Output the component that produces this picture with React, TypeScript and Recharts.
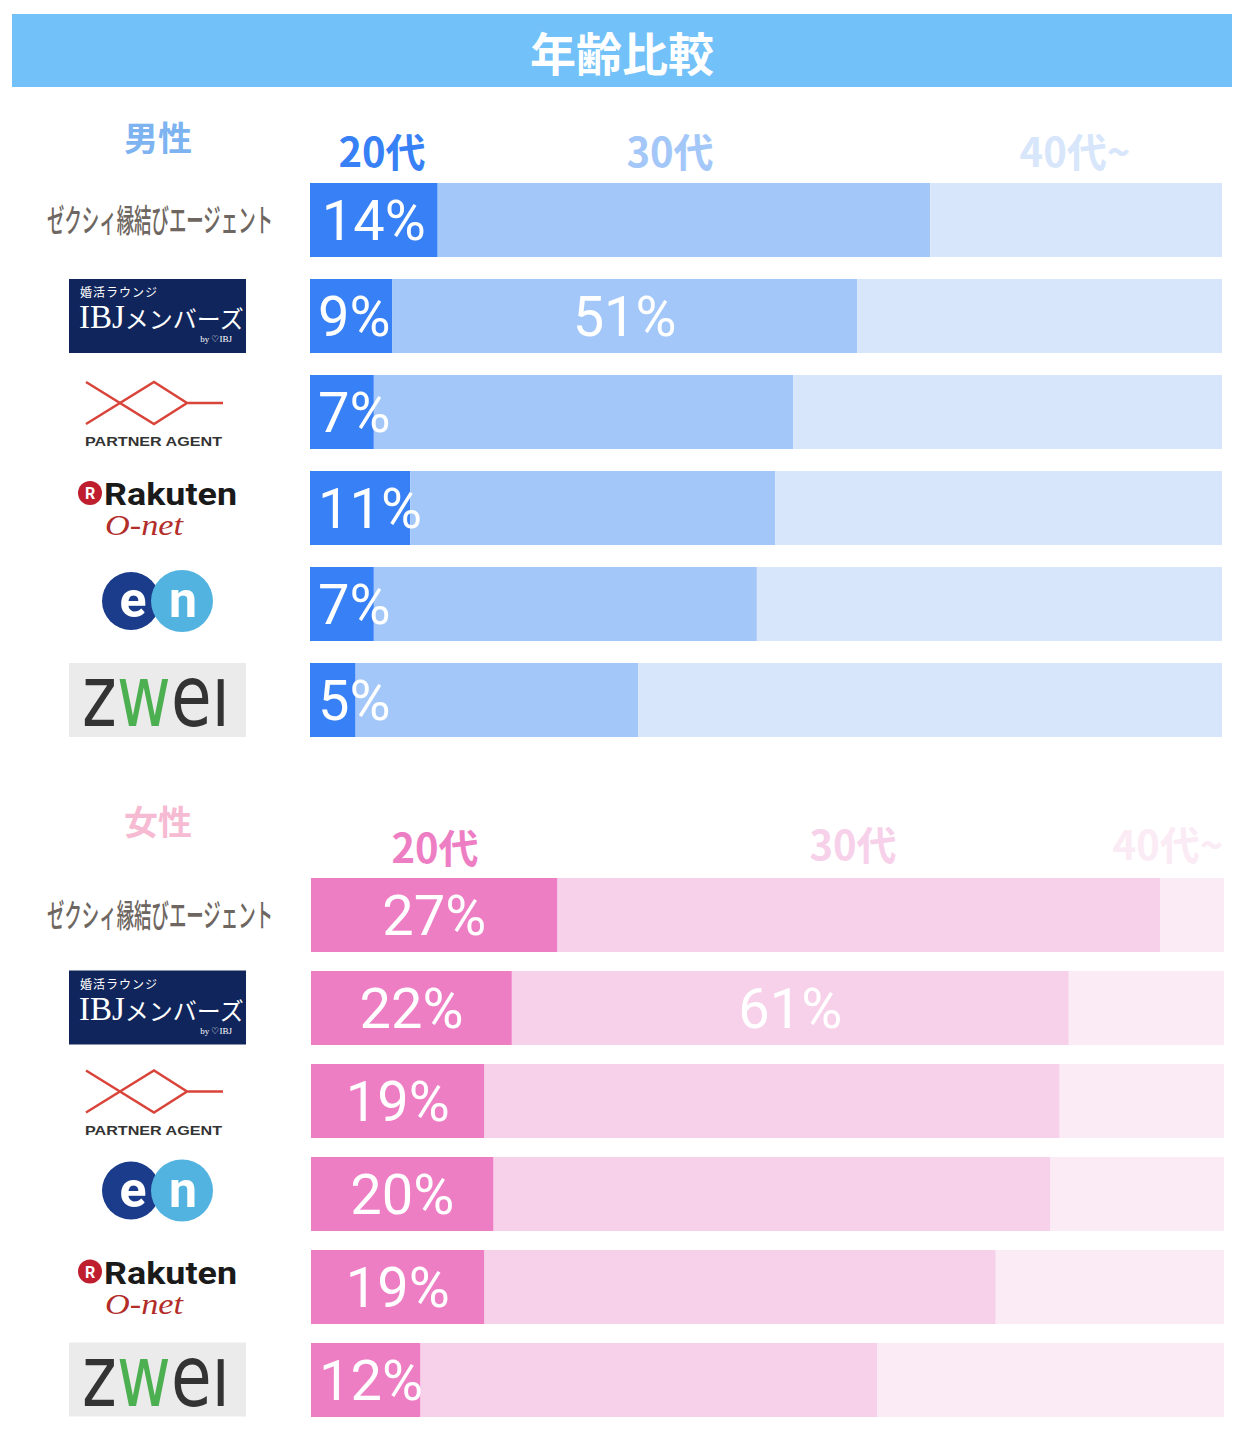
import { BarChart, Bar, XAxis, YAxis, LabelList } from 'recharts';

const ageGroups = ['20代', '30代', '40代~'];

const maleServices = ['ゼクシィ縁結びエージェント', 'IBJメンバーズ', 'パートナーエージェント', '楽天オーネット', 'エン婚活エージェント', 'ツヴァイ'];
const male20 = [14, 9, 7, 11, 7, 5];
const male30 = [54, 51, 46, 40, 42, 31];
const male40 = [32, 40, 47, 49, 51, 64];
const male30Labeled = ['IBJメンバーズ'];

const femaleServices = ['ゼクシィ縁結びエージェント', 'IBJメンバーズ', 'パートナーエージェント', 'エン婚活エージェント', '楽天オーネット', 'ツヴァイ'];
const female20 = [27, 22, 19, 20, 19, 12];
const female30 = [66, 61, 63, 61, 56, 50];
const female40 = [7, 17, 18, 19, 25, 38];
const female30Labeled = ['IBJメンバーズ'];

const BLUE = ['#3780F5', '#A3C7F8', '#D7E6FB'];
const PINK = ['#EE7EC4', '#F6D1E9', '#FAEBF5'];

const buildRows = (names: string[], a: number[], b: number[], c: number[], labeled: string[]) =>
  names.map((name, i) => ({
    name,
    a20: a[i],
    a30: b[i],
    a40: c[i],
    l30: labeled.includes(name) ? b[i] : null,
  }));

const maleData = buildRows(maleServices, male20, male30, male40, male30Labeled);
const femaleData = buildRows(femaleServices, female20, female30, female40, female30Labeled);

const PctLabel = (props: any) => {
  const { x, y, width, height, value } = props;
  if (value == null) return null;
  const w = String(value).length * 31.5 + 41;
  const cx = Math.max(x + width / 2, x + 8 + w / 2);
  return (
    <text x={cx} y={y + height / 2 + 20} textAnchor="middle" fill="#fff" fontSize={56} fontWeight={400} fontFamily="Roboto, sans-serif">
      {`${value}%`}
    </text>
  );
};

// logos drawn as svg stand-ins, centred on the tick's y
const LogoTick = (props: any) => {
  const { y, payload } = props;
  const cy = y;
  switch (payload.value) {
    case 'ゼクシィ縁結びエージェント':
      return (
        <text x={47} y={cy + 12} fontSize={32} fontWeight={500} fill="#6E6660" fontFamily='"Noto Sans CJK JP", sans-serif' textLength={226} lengthAdjust="spacingAndGlyphs">
          ゼクシィ縁結びエージェント
        </text>
      );
    case 'IBJメンバーズ':
      return (
        <g>
          <rect x={69} y={cy - 37} width={177} height={74} fill="#10255B" />
          <text x={80} y={cy - 19} fontSize={12} fill="#fff" fontFamily='"Noto Sans CJK JP", sans-serif' letterSpacing={1}>婚活ラウンジ</text>
          <text x={79} y={cy + 12} fill="#fff">
            <tspan fontSize={33} fontFamily='"Liberation Serif", serif'>IBJ</tspan>
            <tspan fontSize={24} fontFamily='"Noto Sans CJK JP", sans-serif'>メンバーズ</tspan>
          </text>
          <text x={232} y={cy + 26} textAnchor="end" fontSize={9} fill="#fff" fontFamily='"Liberation Serif", serif'>by ♡IBJ</text>
        </g>
      );
    case 'パートナーエージェント':
      return (
        <g>
          <path
            d={`M86 ${cy - 30} L154 ${cy + 12} L187 ${cy - 9} L154 ${cy - 30} L86 ${cy + 12} M187 ${cy - 9} L223 ${cy - 9}`}
            fill="none" stroke="#D9443A" strokeWidth={2.5}
          />
          <text x={85} y={cy + 34} fontSize={13} fontWeight={700} fill="#333" fontFamily='"Liberation Sans", sans-serif' textLength={137} lengthAdjust="spacingAndGlyphs">
            PARTNER AGENT
          </text>
        </g>
      );
    case '楽天オーネット':
      return (
        <g>
          <circle cx={90} cy={cy - 15} r={12} fill="#BF1E2E" />
          <text x={90} y={cy - 9} textAnchor="middle" fontSize={16} fontWeight={700} fill="#fff" fontFamily="Roboto, sans-serif">R</text>
          <text x={104} y={cy - 3} fontSize={32} fontWeight={700} fill="#1a1a1a" fontFamily="Roboto, sans-serif" textLength={133} lengthAdjust="spacingAndGlyphs">Rakuten</text>
          <text x={105} y={cy + 27} fontSize={30} fontStyle="italic" fill="#B22D2A" fontFamily='"Liberation Serif", serif' textLength={78} lengthAdjust="spacingAndGlyphs">O-net</text>
        </g>
      );
    case 'エン婚活エージェント':
      return (
        <g>
          <circle cx={131} cy={cy - 3} r={29} fill="#1A3C8A" />
          <circle cx={182} cy={cy - 3} r={31} fill="#53B3E0" />
          <text x={133} y={cy + 13} textAnchor="middle" fontSize={50} fontWeight={700} fill="#fff" fontFamily="Roboto, sans-serif">e</text>
          <text x={183} y={cy + 13} textAnchor="middle" fontSize={50} fontWeight={700} fill="#fff" fontFamily="Roboto, sans-serif">n</text>
        </g>
      );
    case 'ツヴァイ':
      return (
        <g>
          <rect x={69} y={cy - 37} width={177} height={74} fill="#EBEBEB" />
          <text x={82} y={cy + 26} fontSize={86} fill="#333" fontFamily='"DejaVu Sans", sans-serif' textLength={148} lengthAdjust="spacingAndGlyphs">
            z<tspan fill="#4CAF50">w</tspan>eı
          </text>
        </g>
      );
    default:
      return null;
  }
};

type SectionProps = {
  data: any[];
  colors: string[];
  top: number;
  height: number;
  axisWidth: number;
  right: number;
};

function Section({ data, colors, top, height, axisWidth, right }: SectionProps) {
  return (
    <div style={{ position: 'absolute', left: 0, top }}>
      <BarChart width={1244} height={height} data={data} layout="vertical" margin={{ top: 0, right, bottom: 0, left: 0 }} barSize={74}>
        <XAxis type="number" domain={[0, 100]} hide />
        <YAxis type="category" dataKey="name" width={axisWidth} axisLine={false} tickLine={false} tick={(p: any) => <LogoTick {...p} />} interval={0} />
        <Bar dataKey="a20" stackId="s" fill={colors[0]} isAnimationActive={false}>
          <LabelList dataKey="a20" content={PctLabel} />
        </Bar>
        <Bar dataKey="a30" stackId="s" fill={colors[1]} isAnimationActive={false}>
          <LabelList dataKey="l30" content={PctLabel} />
        </Bar>
        <Bar dataKey="a40" stackId="s" fill={colors[2]} isAnimationActive={false} />
      </BarChart>
    </div>
  );
}

const headStyle = (x: number, y: number, color: string, size: number): React.CSSProperties => ({
  position: 'absolute',
  left: x,
  top: y,
  transform: 'translate(-50%, -50%)',
  color,
  fontSize: size,
  fontWeight: 700,
  whiteSpace: 'nowrap',
  lineHeight: 1,
});

export default function App() {
  const maleHeadX = [382, 670, 1075];
  const femaleHeadX = [435, 853, 1168];
  const femaleHeadY = [846, 843, 843];
  return (
    <div style={{ position: 'absolute', left: 0, top: 0, width: 1244, height: 1434, background: '#fff', fontFamily: '"Noto Sans CJK JP", sans-serif' }}>
      <div style={{ position: 'absolute', left: 12, top: 14, width: 1220, height: 73, background: '#72C1F9', color: '#fff', fontSize: 46, fontWeight: 700, display: 'flex', alignItems: 'center', justifyContent: 'center' }}>
        年齢比較
      </div>

      <div style={headStyle(158, 137, '#7DB3F0', 34)}>男性</div>
      {ageGroups.map((g, i) => (
        <div key={g} style={headStyle(maleHeadX[i], 150, BLUE[i], 40)}>{g}</div>
      ))}
      <Section data={maleData} colors={BLUE} top={172} height={576} axisWidth={310} right={22} />

      <div style={headStyle(158, 821, '#F6BBD3', 34)}>女性</div>
      {ageGroups.map((g, i) => (
        <div key={g} style={headStyle(femaleHeadX[i], femaleHeadY[i], PINK[i], 40)}>{g}</div>
      ))}
      <Section data={femaleData} colors={PINK} top={868} height={558} axisWidth={311} right={20} />
    </div>
  );
}
